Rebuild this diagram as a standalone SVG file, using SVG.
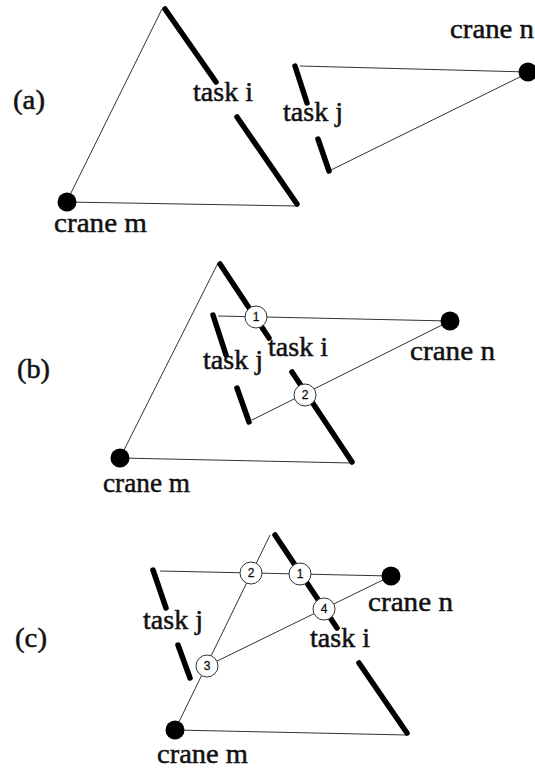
<svg xmlns="http://www.w3.org/2000/svg" width="535" height="770" viewBox="0 0 535 770">
<style>
.thin{stroke:#333;stroke-width:1;fill:none}
.task{stroke:#000;stroke-width:5.5;stroke-linecap:round;fill:none}
.dot{fill:#000}
.pt{fill:#fff;stroke:#333;stroke-width:1}
.lbl{font-family:"Liberation Serif","Times New Roman",serif;font-size:28px;fill:#111;stroke:#111;stroke-width:0.5}
.num{font-family:"Liberation Sans",Arial,sans-serif;font-size:12px;fill:#111;text-anchor:middle;stroke:#111;stroke-width:0.3}
</style>
<rect width="535" height="770" fill="#fff"/>
<g id="connectors">
  <line class="thin" x1="162" y1="9" x2="67" y2="201"/>
  <line class="thin" x1="67" y1="202" x2="297" y2="206"/>
  <line class="thin" x1="300" y1="66" x2="528" y2="72"/>
  <line class="thin" x1="331" y1="170" x2="528" y2="73"/>
  <line class="thin" x1="218" y1="263" x2="120" y2="458"/>
  <line class="thin" x1="120" y1="458" x2="352" y2="463"/>
  <line class="thin" x1="218" y1="316" x2="450" y2="321"/>
  <line class="thin" x1="252" y1="420" x2="450" y2="321"/>
  <line class="thin" x1="270" y1="535" x2="175" y2="730"/>
  <line class="thin" x1="175" y1="730" x2="407" y2="735"/>
  <line class="thin" x1="160" y1="571" x2="391" y2="576"/>
  <line class="thin" x1="207" y1="666" x2="391" y2="576"/>
</g>
<g id="panel-a">
  <text class="lbl" x="13" y="109" textLength="32" lengthAdjust="spacingAndGlyphs">(a)</text>
  <g id="a-task-i">
    <line class="task" x1="165" y1="9" x2="216" y2="82"/>
    <line class="task" x1="237" y1="117" x2="297" y2="204"/>
    <text class="lbl" x="193" y="101" textLength="60" lengthAdjust="spacingAndGlyphs">task i</text>
  </g>
  <g id="a-task-j">
    <line class="task" x1="295" y1="66" x2="307" y2="103"/>
    <line class="task" x1="318" y1="139" x2="329" y2="171"/>
    <text class="lbl" x="283" y="121" textLength="60" lengthAdjust="spacingAndGlyphs">task j</text>
  </g>
  <g id="a-crane-m">
    <circle class="dot" cx="67" cy="202" r="9.5"/>
    <text class="lbl" x="54" y="232" textLength="93" lengthAdjust="spacingAndGlyphs">crane m</text>
  </g>
  <g id="a-crane-n">
    <circle class="dot" cx="528" cy="72" r="9.5"/>
    <text class="lbl" x="450" y="38" textLength="84" lengthAdjust="spacingAndGlyphs">crane n</text>
  </g>
</g>
<g id="panel-b">
  <text class="lbl" x="17" y="378" textLength="33" lengthAdjust="spacingAndGlyphs">(b)</text>
  <g id="b-task-i">
    <line class="task" x1="220" y1="264" x2="269" y2="338"/>
    <line class="task" x1="292" y1="372" x2="352" y2="462"/>
    <text class="lbl" x="268" y="356" textLength="60" lengthAdjust="spacingAndGlyphs">task i</text>
  </g>
  <g id="b-task-j">
    <line class="task" x1="213" y1="315" x2="226" y2="355"/>
    <line class="task" x1="237" y1="388" x2="249" y2="422"/>
    <text class="lbl" x="203" y="369" textLength="60" lengthAdjust="spacingAndGlyphs">task j</text>
  </g>
  <g id="b-crane-m">
    <circle class="dot" cx="120" cy="458" r="9.5"/>
    <text class="lbl" x="103" y="492" textLength="87" lengthAdjust="spacingAndGlyphs">crane m</text>
  </g>
  <g id="b-crane-n">
    <circle class="dot" cx="450" cy="321" r="9.5"/>
    <text class="lbl" x="410" y="360" textLength="85" lengthAdjust="spacingAndGlyphs">crane n</text>
  </g>
  <g id="b-p1">
    <circle class="pt" cx="256" cy="317" r="11"/>
    <text class="num" x="256" y="321">1</text>
  </g>
  <g id="b-p2">
    <circle class="pt" cx="305" cy="395" r="11"/>
    <text class="num" x="305" y="399">2</text>
  </g>
</g>
<g id="panel-c">
  <text class="lbl" x="15" y="647" textLength="32" lengthAdjust="spacingAndGlyphs">(c)</text>
  <g id="c-task-i">
    <line class="task" x1="275" y1="535" x2="337" y2="628"/>
    <line class="task" x1="359" y1="663" x2="407" y2="733"/>
    <text class="lbl" x="310" y="647" textLength="60" lengthAdjust="spacingAndGlyphs">task i</text>
  </g>
  <g id="c-task-j">
    <line class="task" x1="153" y1="570" x2="166" y2="608"/>
    <line class="task" x1="178" y1="645" x2="190" y2="678"/>
    <text class="lbl" x="143" y="629" textLength="60" lengthAdjust="spacingAndGlyphs">task j</text>
  </g>
  <g id="c-crane-m">
    <circle class="dot" cx="175" cy="730" r="9.5"/>
    <text class="lbl" x="157" y="763" textLength="91" lengthAdjust="spacingAndGlyphs">crane m</text>
  </g>
  <g id="c-crane-n">
    <circle class="dot" cx="391" cy="576" r="9.5"/>
    <text class="lbl" x="368" y="611" textLength="85" lengthAdjust="spacingAndGlyphs">crane n</text>
  </g>
  <g id="c-p1">
    <circle class="pt" cx="300" cy="574" r="11"/>
    <text class="num" x="300" y="578">1</text>
  </g>
  <g id="c-p2">
    <circle class="pt" cx="251" cy="573" r="11"/>
    <text class="num" x="251" y="577">2</text>
  </g>
  <g id="c-p3">
    <circle class="pt" cx="207" cy="666" r="11"/>
    <text class="num" x="207" y="670">3</text>
  </g>
  <g id="c-p4">
    <circle class="pt" cx="324" cy="609" r="11"/>
    <text class="num" x="324" y="613">4</text>
  </g>
</g>
</svg>
